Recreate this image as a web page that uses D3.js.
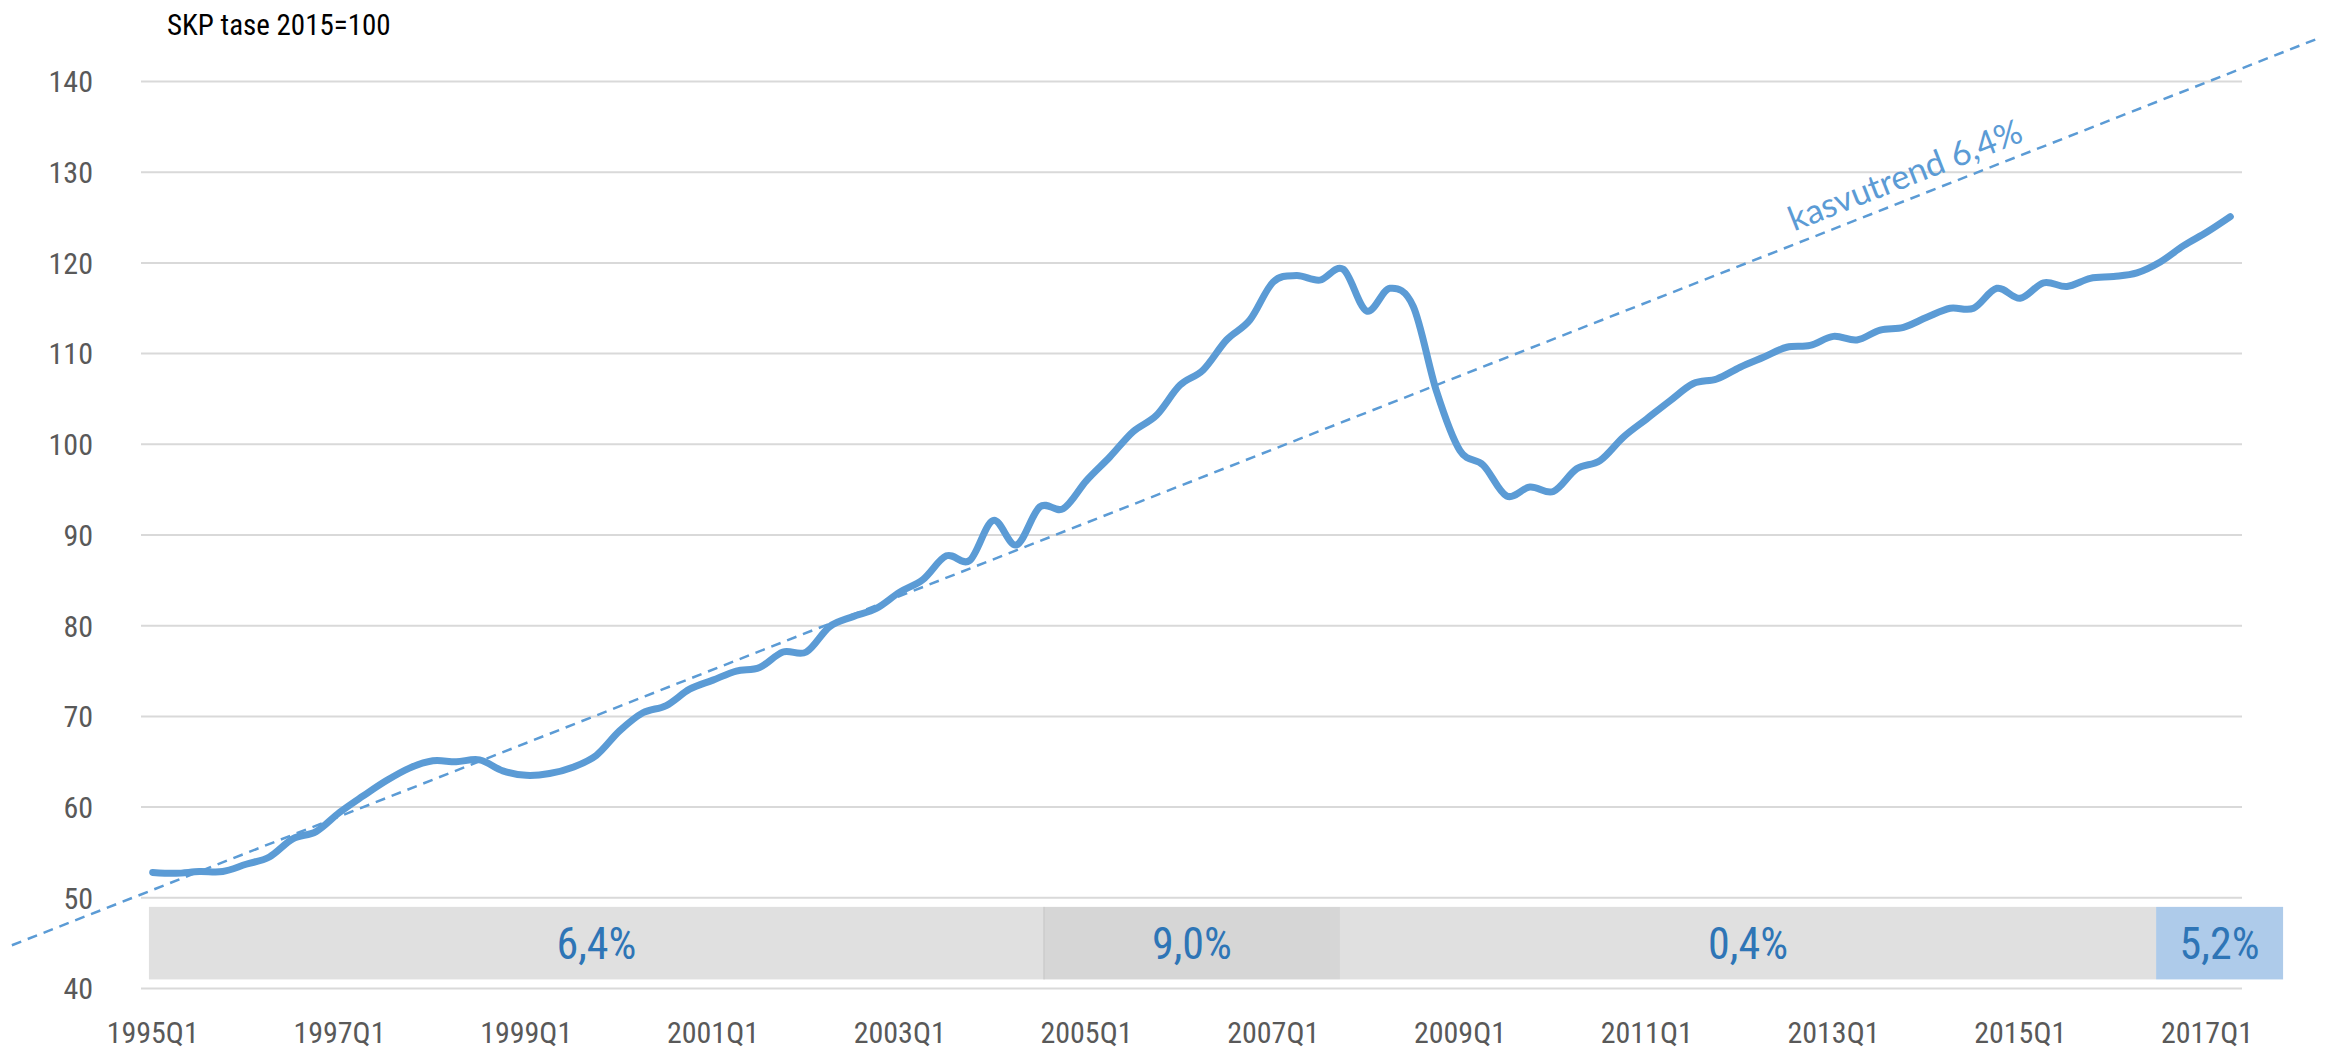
<!DOCTYPE html>
<html>
<head>
<meta charset="utf-8">
<script src="https://cdnjs.cloudflare.com/ajax/libs/d3/7.8.5/d3.min.js"></script>
<style>
  body { margin: 0; background: #fff; }
  svg { display: block; }
  .cond { font-family: "Roboto Condensed", Roboto, sans-serif; }
</style>
</head>
<body>
<div id="chart"></div>
<script>
  // SKP tase 2015=100, quarterly from 1995Q1
  var startYear = 1995;
  var gdp = [
    52.8, 52.7, 52.9, 52.9, 53.7, 54.5, 56.5, 57.3, 59.4, 61.2,
    62.9, 64.3, 65.1, 65.0, 65.2, 64.0, 63.5, 63.7, 64.4, 65.7,
    68.4, 70.4, 71.2, 73.0, 74.0, 75.0, 75.4, 77.1, 77.1, 79.9,
    81.0, 81.9, 83.7, 85.1, 87.7, 87.2, 91.6, 88.9, 93.1, 92.9,
    96.0, 98.6, 101.4, 103.2, 106.5, 108.2, 111.5, 113.7, 117.9, 118.6,
    118.1, 119.3, 114.7, 117.2, 115.2, 105.8, 99.3, 97.7, 94.3, 95.3,
    94.8, 97.3, 98.2, 100.8, 102.8, 104.8, 106.7, 107.2, 108.5, 109.6,
    110.7, 110.9, 111.9, 111.5, 112.6, 112.9, 114.0, 115.0, 115.0, 117.2,
    116.1, 117.8, 117.4, 118.3, 118.5, 118.9, 120.1, 121.9, 123.4, 125.1
  ];
  var quarters = gdp.map(function(d, i) {
    return (startYear + Math.floor(i / 4)) + "Q" + (i % 4 + 1);
  });
  var yTicks = [40, 50, 60, 70, 80, 90, 100, 110, 120, 130, 140];
  var xTickEvery = 8;

  // trend line, in quarter index / index value
  var trendIdx = [-6.03, 92.76];
  var trendVal = [44.77, 144.75];
  var trendLabel = "kasvutrend 6,4%";
  var trendLabelIdx = 70.5;

  // growth periods shown in the band at the bottom
  var segStart = [-0.16, 38.18, 50.86, 85.82];
  var segEnd   = [38.18, 50.86, 85.82, 91.26];
  var segLabel = ["6,4%", "9,0%", "0,4%", "5,2%"];
  var bandLow = 41, bandHigh = 49;

  var title = "SKP tase 2015=100";

  var width = 2335, height = 1053;
  var segColors = ["#e0e0e0", "#d6d6d6", "#e0e0e0", "#aecbea"];

  var svg = d3.select("#chart").append("svg")
      .attr("width", width)
      .attr("height", height);

  var x = d3.scaleLinear()
      .domain([-0.5, gdp.length - 0.5])
      .range([141, 2242]);
  var y = d3.scaleLinear()
      .domain([40, 140])
      .range([988.5, 81.5]);

  // gridlines
  svg.append("g").selectAll("line")
      .data(yTicks)
      .enter().append("line")
      .attr("x1", x.range()[0])
      .attr("x2", x.range()[1])
      .attr("y1", function(d) { return y(d); })
      .attr("y2", function(d) { return y(d); })
      .style("stroke", "#d9d9d9")
      .style("stroke-width", 2);

  // y labels
  svg.append("g").selectAll("text")
      .data(yTicks)
      .enter().append("text")
      .attr("class", "cond")
      .attr("x", 93)
      .attr("y", function(d) { return y(d); })
      .attr("dy", "0.36em")
      .attr("text-anchor", "end")
      .style("font-size", "30px")
      .style("fill", "#595959")
      .text(function(d) { return d; });

  // x labels
  var xTickIdx = d3.range(0, gdp.length, xTickEvery);
  svg.append("g").selectAll("text")
      .data(xTickIdx)
      .enter().append("text")
      .attr("class", "cond")
      .attr("x", function(d) { return x(d); })
      .attr("y", 1043)
      .attr("text-anchor", "middle")
      .style("font-size", "30px")
      .style("fill", "#595959")
      .text(function(d) { return quarters[d]; });

  // growth band
  var segs = segLabel.map(function(l, i) {
    return {s: segStart[i], e: segEnd[i], label: l, color: segColors[i]};
  });
  svg.append("g").selectAll("rect")
      .data(segs)
      .enter().append("rect")
      .attr("x", function(d) { return x(d.s); })
      .attr("width", function(d) { return x(d.e) - x(d.s); })
      .attr("y", y(bandHigh))
      .attr("height", y(bandLow) - y(bandHigh))
      .style("fill", function(d) { return d.color; });
  svg.append("line")
      .attr("x1", x(segStart[1])).attr("x2", x(segStart[1]))
      .attr("y1", y(bandHigh)).attr("y2", y(bandLow))
      .style("stroke", "#c4c4c4")
      .style("stroke-width", 1);
  svg.append("g").selectAll("text")
      .data(segs)
      .enter().append("text")
      .attr("class", "cond")
      .attr("x", function(d) { return x((d.s + d.e) / 2); })
      .attr("y", y((bandLow + bandHigh) / 2))
      .attr("dy", "0.36em")
      .attr("text-anchor", "middle")
      .style("font-size", "44px")
      .style("fill", "#2e75b6")
      .text(function(d) { return d.label; });

  // trend
  var trend = trendIdx.map(function(d, i) { return {i: d, v: trendVal[i]}; });
  var line = d3.line()
      .x(function(d) { return x(d.i); })
      .y(function(d) { return y(d.v); });
  svg.append("path")
      .datum(trend)
      .attr("d", line)
      .style("fill", "none")
      .style("stroke", "#5b9bd5")
      .style("stroke-width", 2.5)
      .style("stroke-dasharray", "10,7");

  var slope = (trendVal[1] - trendVal[0]) / (trendIdx[1] - trendIdx[0]);
  var lx = x(trendLabelIdx);
  var ly = y(trendVal[0] + slope * (trendLabelIdx - trendIdx[0]));
  var angle = Math.atan2(y(trendVal[1]) - y(trendVal[0]), x(trendIdx[1]) - x(trendIdx[0])) * 180 / Math.PI;
  svg.append("text")
      .attr("transform", "translate(" + lx + "," + ly + ") rotate(" + angle + ") translate(0,-12)")
      .style("font-family", "Lato, 'Open Sans', sans-serif")
      .style("font-size", "34px")
      .style("fill", "#5b9bd5")
      .text(trendLabel);

  // GDP line
  var gdpLine = d3.line()
      .curve(d3.curveCardinal.tension(0))
      .x(function(d, i) { return x(i); })
      .y(function(d) { return y(d); });
  svg.append("path")
      .datum(gdp)
      .attr("d", gdpLine)
      .style("fill", "none")
      .style("stroke", "#5b9bd5")
      .style("stroke-width", 7)
      .style("stroke-linecap", "round")
      .style("stroke-linejoin", "round");

  // title
  svg.append("text")
      .attr("class", "cond")
      .attr("x", 167)
      .attr("y", 35)
      .style("font-size", "29px")
      .style("fill", "#000")
      .text(title);
</script>
</body>
</html>
